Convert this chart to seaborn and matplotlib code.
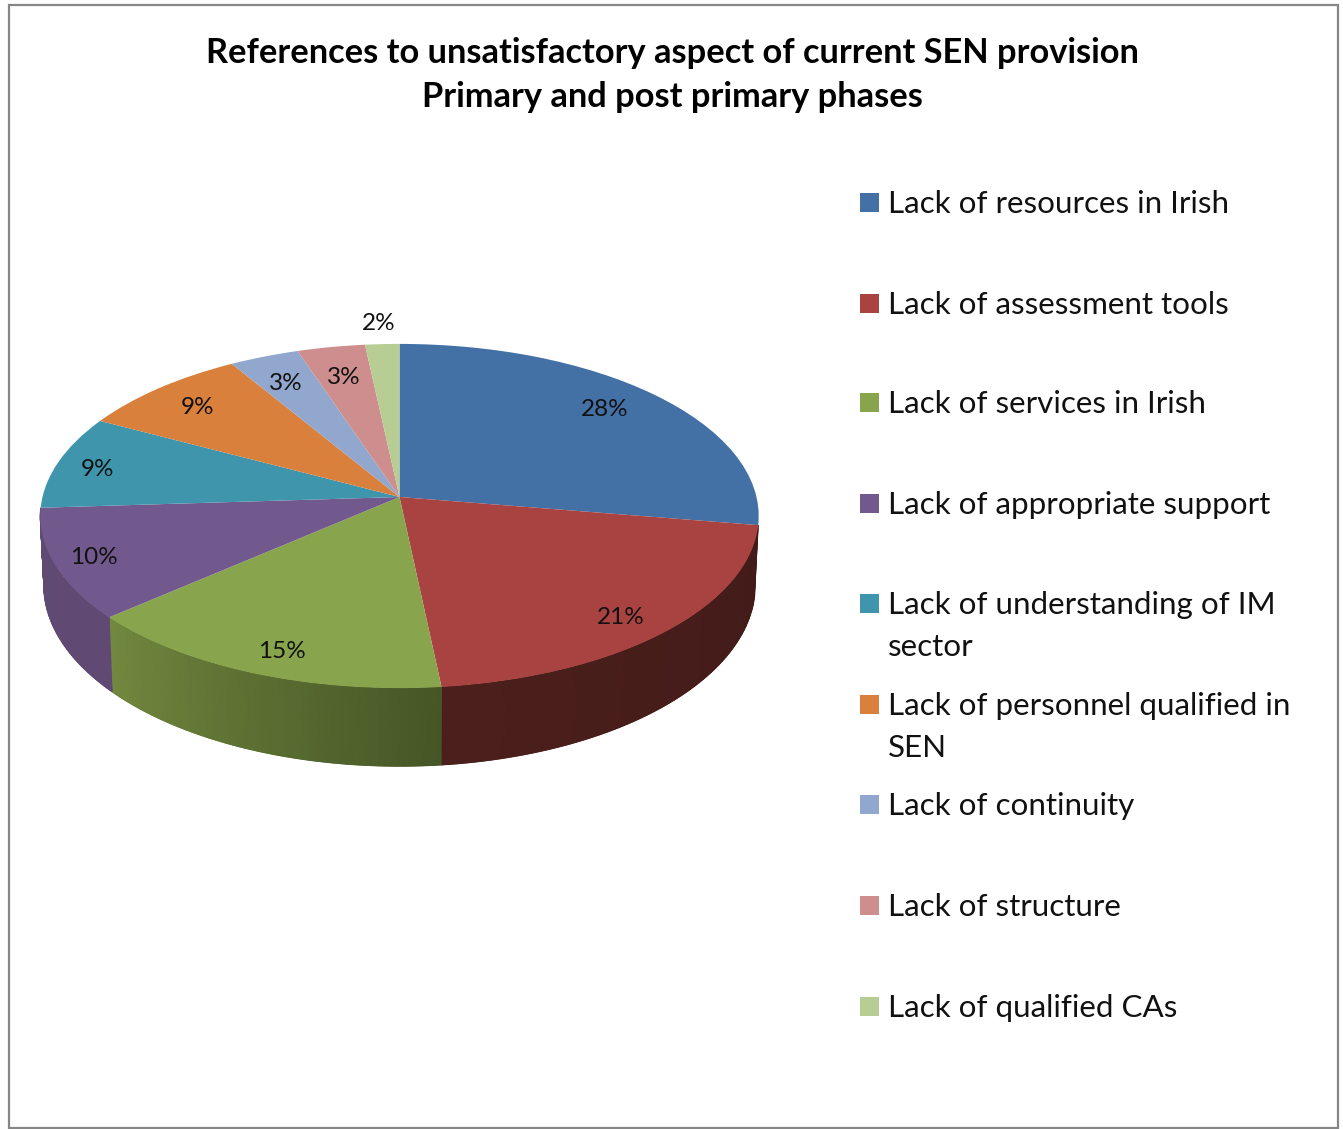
# 3D style pie of unsatisfactory aspects of SEN provision
import numpy as np
import matplotlib
matplotlib.use("Agg")
import matplotlib.pyplot as plt
from matplotlib.colors import to_rgb
from matplotlib.patches import Rectangle
from matplotlib.transforms import Transform
import seaborn as sns

categories = ["Lack of resources in Irish", "Lack of assessment tools", "Lack of services in Irish",
              "Lack of appropriate support", "Lack of understanding of IM\nsector",
              "Lack of personnel qualified in\nSEN", "Lack of continuity", "Lack of structure",
              "Lack of qualified CAs"]
shares = [27.6, 20.73, 15.27, 10.4, 8.8, 8.6, 3.49, 3.4, 1.71]
top_colors = ["#4471a5", "#a84341", "#88a54e", "#71588d", "#3e95ac", "#d8803c", "#92a7cd", "#cd8e8d", "#b8cd94"]
# side wall colours (start, end of the arc, going clockwise), only the front slices have one
wall_colors = {1: ("#421b18", "#4b1f1c"), 2: ("#465626", "#72893f"), 3: ("#604a74", "#5f4a72")}

label_pos = [(605, 410), (621, 617), (282, 652), (94, 557), (97, 469), (197, 408), (286, 383), (344, 377), (379, 324)]
legend_y = [202, 303, 402, 503, 603, 704, 804, 905, 1006]

# perspective of the disc, in pixels
cx, cy = 399.5, 497
rx, ry = 357, 170
persp = 0.1105
wall_drop, wall_ry, wall_scale = 68, 178.8, 0.99

sns.set_theme(style="white")
plt.rcParams['font.family'] = ['Lato', 'DejaVu Sans']


class Tilt(Transform):
    # unit circle of the pie -> tilted disc
    input_dims = 2
    output_dims = 2

    def transform_non_affine(self, values):
        values = np.asarray(values, dtype=float)
        w = 1 + persp * values[:, 1]
        return np.column_stack([cx + rx * values[:, 0] / w, cy - ry * values[:, 1] / w])


def rim(theta, top=True):
    x, y = np.cos(theta), np.sin(theta)
    w = 1 + persp * y
    if top:
        return cx + rx * x / w, cy - ry * y / w
    return cx + wall_scale * rx * x / w, cy + wall_drop - wall_ry * y / w


fig = plt.figure(figsize=(13.43, 11.29), dpi=100)
ax = fig.add_axes([0, 0, 1, 1])

palette = sns.color_palette(top_colors)
wedges, _, pct_texts = ax.pie(shares, colors=palette, startangle=90, counterclock=False, autopct='%.0f%%',
                              wedgeprops={'transform': Tilt() + ax.transData, 'zorder': 3, 'linewidth': 0},
                              textprops={'fontsize': 17.5, 'color': '#111111', 'zorder': 5})
ax.set_aspect('auto')
ax.set_xlim(0, 1343)
ax.set_ylim(1129, 0)
ax.axis('off')

for text, pos in zip(pct_texts, label_pos):
    text.set_position(pos)

# side wall with a smooth colour ramp along the arc
edges = 90 - 3.6 * np.concatenate([[0], np.cumsum(shares)])
for i, (start_col, end_col) in wall_colors.items():
    thetas = np.radians(np.linspace(edges[i], edges[i + 1], 61))
    xt, yt = rim(thetas)
    xb, yb = rim(thetas, top=False)
    ramp = np.linspace(to_rgb(start_col), to_rgb(end_col), 61)
    ax.pcolormesh(np.vstack([xt, xb]), np.vstack([yt, yb]), np.stack([ramp, ramp]), shading='gouraud', zorder=2)
    # soften the lower edge
    for j in range(0, 60, 3):
        ax.plot(xb[j:j + 4], yb[j:j + 4], color=ramp[j], lw=1.0, zorder=2, solid_capstyle='butt')

# legend by hand, the entries sit on a fixed pitch whatever their line count
ax.scatter([869.5] * len(legend_y), legend_y, marker='s', s=(19 * 0.72) ** 2, c=palette, linewidths=0)
for name, y in zip(categories, legend_y):
    ax.text(888, y - 12, name, fontsize=22.6, va='top', ha='left', color='#111111', linespacing=1.62)

ax.text(672, 53, "References to unsatisfactory aspect of current SEN provision", fontsize=24.75, fontweight='bold',
        ha='center', va='center', color='#000000')
ax.text(672, 97, "Primary and post primary phases", fontsize=24.75, fontweight='bold',
        ha='center', va='center', color='#000000')

ax.add_patch(Rectangle((8.5, 5), 1329, 1123, fill=False, edgecolor='#868686', linewidth=1.6, zorder=1))

plt.savefig("out.png", dpi=100)
